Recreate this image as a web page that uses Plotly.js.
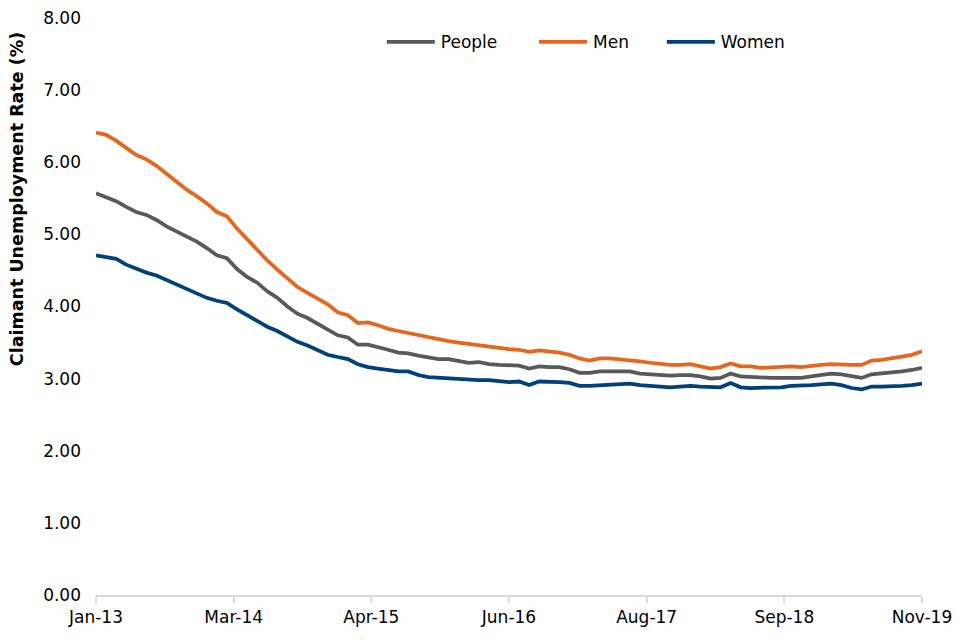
<!DOCTYPE html>
<html>
<head>
<meta charset="utf-8">
<script src="https://cdn.plot.ly/plotly-3.0.1.min.js"></script>
<style>html,body{margin:0;padding:0;background:#fff;}#chart{width:960px;height:640px;}</style>
</head>
<body>
<div id="chart"></div>
<script>
const months = [
 "Jan-13","Feb-13","Mar-13","Apr-13","May-13","Jun-13","Jul-13","Aug-13","Sep-13","Oct-13","Nov-13","Dec-13",
 "Jan-14","Feb-14","Mar-14","Apr-14","May-14","Jun-14","Jul-14","Aug-14","Sep-14","Oct-14","Nov-14","Dec-14",
 "Jan-15","Feb-15","Mar-15","Apr-15","May-15","Jun-15","Jul-15","Aug-15","Sep-15","Oct-15","Nov-15","Dec-15",
 "Jan-16","Feb-16","Mar-16","Apr-16","May-16","Jun-16","Jul-16","Aug-16","Sep-16","Oct-16","Nov-16","Dec-16",
 "Jan-17","Feb-17","Mar-17","Apr-17","May-17","Jun-17","Jul-17","Aug-17","Sep-17","Oct-17","Nov-17","Dec-17",
 "Jan-18","Feb-18","Mar-18","Apr-18","May-18","Jun-18","Jul-18","Aug-18","Sep-18","Oct-18","Nov-18","Dec-18",
 "Jan-19","Feb-19","Mar-19","Apr-19","May-19","Jun-19","Jul-19","Aug-19","Sep-19","Oct-19","Nov-19"
];
const people = [
 5.57,5.52,5.46,5.38,5.31,5.27,5.20,5.11,5.04,4.96,4.90,4.81,
 4.71,4.67,4.52,4.41,4.33,4.21,4.12,4.00,3.90,3.84,3.76,3.68,
 3.60,3.57,3.47,3.47,3.44,3.40,3.36,3.35,3.32,3.29,3.27,3.27,
 3.25,3.22,3.23,3.20,3.19,3.18,3.18,3.14,3.17,3.16,3.16,3.13,
 3.08,3.08,3.10,3.10,3.10,3.10,3.07,3.06,3.04,3.04,3.05,3.05,
 3.03,3.00,3.01,3.07,3.03,3.02,3.01,3.01,3.01,3.01,3.01,3.03,
 3.05,3.07,3.06,3.04,3.01,3.06,3.07,3.08,3.10,3.12,3.15
];
const men = [
 6.41,6.38,6.30,6.20,6.10,6.04,5.95,5.84,5.73,5.62,5.53,5.43,
 5.31,5.25,5.08,4.93,4.78,4.64,4.51,4.39,4.27,4.19,4.11,4.03,
 3.92,3.88,3.77,3.78,3.74,3.69,3.66,3.63,3.60,3.57,3.54,3.52,
 3.50,3.48,3.47,3.45,3.42,3.41,3.40,3.37,3.39,3.38,3.36,3.33,
 3.28,3.25,3.28,3.28,3.27,3.25,3.24,3.22,3.20,3.19,3.19,3.20,
 3.17,3.14,3.16,3.21,3.17,3.17,3.15,3.16,3.16,3.17,3.16,3.18,
 3.19,3.20,3.19,3.19,3.19,3.25,3.26,3.28,3.31,3.33,3.38
];
const women = [
 4.71,4.69,4.66,4.58,4.52,4.47,4.43,4.37,4.31,4.24,4.19,4.12,
 4.08,4.05,3.96,3.88,3.80,3.72,3.66,3.58,3.51,3.46,3.39,3.33,
 3.30,3.27,3.20,3.16,3.14,3.12,3.10,3.10,3.05,3.02,3.01,3.00,
 2.99,2.98,2.98,2.98,2.96,2.95,2.96,2.91,2.96,2.96,2.95,2.94,
 2.90,2.90,2.91,2.92,2.93,2.93,2.91,2.90,2.89,2.88,2.89,2.90,
 2.89,2.88,2.88,2.94,2.88,2.87,2.87,2.88,2.88,2.90,2.90,2.91,
 2.92,2.93,2.91,2.87,2.85,2.89,2.89,2.89,2.90,2.91,2.93
];
const tickLabels = ["Jan-13","Mar-14","Apr-15","Jun-16","Aug-17","Sep-18","Nov-19"];
const yTicks = [0,1,2,3,4,5,6,7,8];
const yTitle = "Claimant Unemployment Rate (%)";

const xIdx = months.map((_, i) => i);
const last = months.length - 1;
const tickPos = tickLabels.map((_, k) => k * last / (tickLabels.length - 1));

const font = "DejaVu Sans, Liberation Sans, Arial, sans-serif";
const mk = (name, y, color, leg) => ({
  type: "scatter", mode: "lines", name: name, x: xIdx, y: y, legend: leg,
  text: months, hovertemplate: "%{text}: %{y:.2f}<extra>" + name + "</extra>",
  line: {color: color, width: 3.75, shape: "linear"}
});

const data = [
  mk("People", people, "#595959", "legend"),
  mk("Men", men, "#e5671d", "legend2"),
  mk("Women", women, "#00417a", "legend3")
];

const legBase = (x) => ({
  orientation: "h", x: x, xanchor: "left", y: 0.958, yanchor: "middle",
  font: {family: font, size: 17, color: "#000000"},
  bgcolor: "rgba(0,0,0,0)", itemwidth: 48
});

const layout = {
  width: 960, height: 640,
  margin: {l: 96, r: 38, t: 18, b: 45},
  paper_bgcolor: "#ffffff", plot_bgcolor: "#ffffff",
  font: {family: font, size: 17, color: "#000000"},
  showlegend: true,
  legend: legBase(0.3472),
  legend2: legBase(0.5315),
  legend3: legBase(0.6862),
  xaxis: {
    range: [0, last], tickmode: "array", tickvals: tickPos, ticktext: tickLabels,
    showgrid: false, zeroline: false, showline: true, linecolor: "#d9d9d9", linewidth: 1.5,
    ticks: "outside", ticklen: 6, tickcolor: "#d9d9d9", tickwidth: 1.5,
    tickfont: {family: font, size: 17, color: "#000000"}
  },
  yaxis: {
    range: [0, 8], tickmode: "array", tickvals: yTicks, tickformat: ".2f",
    showgrid: false, zeroline: false, showline: false, ticks: "",
    tickfont: {family: font, size: 17, color: "#000000"}, ticklabelstandoff: 14
  },
  annotations: [{
    text: "<b>" + yTitle + "</b>", textangle: -90, showarrow: false,
    xref: "paper", yref: "paper", x: -0.0956, y: 0.686, xanchor: "center", yanchor: "middle",
    font: {family: font, size: 17.5, color: "#000000"}
  }]
};

Plotly.newPlot("chart", data, layout, {displayModeBar: false, responsive: false}).then(gd => {
  gd.querySelectorAll(".legendlines path").forEach(p => p.setAttribute("d", "M4,0h48"));
});
</script>
</body>
</html>
